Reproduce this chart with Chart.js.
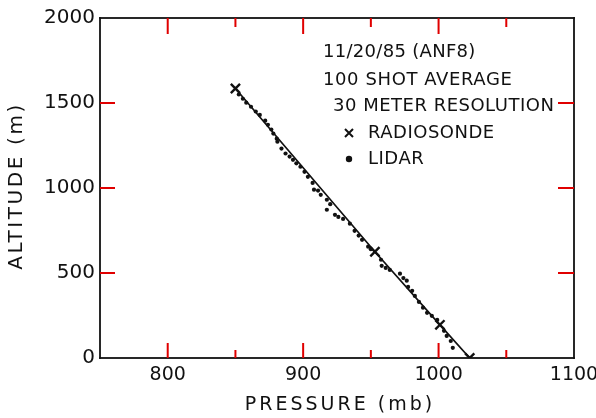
<!DOCTYPE html>
<html>
<head>
<meta charset="utf-8">
<script src="https://cdn.jsdelivr.net/npm/chart.js@4/dist/chart.umd.min.js"></script>
<style>
  html, body { margin: 0; padding: 0; background: #fff; }
  #wrap { width: 596px; height: 418px; }
</style>
</head>
<body>
<div id="wrap"><canvas id="c" width="596" height="418"></canvas></div>
<script>
// Radiosonde soundings: pressure (mb) and altitude (m)
const radiosondePressure = [850, 953, 1001, 1023];
const radiosondeAltitude = [1585, 625, 195, 0];

// Lidar-derived pressure profile, 30 m resolution, 100 shot average
const lidarPressure = [852.5, 855.5, 858, 861.5, 865, 868, 872, 874, 876.5, 878, 880.5, 881, 884, 887,
  890, 892.5, 895, 898, 901, 903.5, 907, 908, 911, 913, 917.5, 917.5, 920, 923.5, 926, 929.5,
  934.5, 938, 941, 943.5, 948, 950, 957.5, 958, 961, 964, 971.5, 974, 976.5, 977.5, 980.5,
  982.5, 985.5, 988.5, 991.5, 995, 999, 1004, 1006, 1009, 1010.5];
const lidarAltitude = [1550, 1525, 1502, 1478, 1450, 1430, 1396, 1372, 1344, 1320, 1290, 1272, 1232, 1203,
  1185, 1166, 1145, 1125, 1095, 1066, 1030, 990, 985, 960, 931, 872, 905, 842, 830, 818,
  790, 748, 720, 695, 655, 640, 578, 542, 530, 518, 496, 470, 455, 418, 395,
  365, 330, 296, 266, 248, 224, 160, 130, 100, 60];

// Axis ranges and tick spacing
const pressureRange = [750, 1100];
const pressureStep = 50;
const altitudeRange = [0, 2000];
const altitudeStep = 500;

// Text block in the upper right
const infoLines = ['11/20/85 (ANF8)', '100 SHOT AVERAGE', '30 METER RESOLUTION'];
const seriesNames = ['RADIOSONDE', 'LIDAR'];
const xTitle = 'PRESSURE (mb)';
const yTitle = 'ALTITUDE (m)';

const INK = '#111';
const TICK_INK = '#e00000';
const FONT = 'DejaVu Sans';

function spacedText(ctx, text, x, y, spacing) {
  ctx.letterSpacing = spacing + 'px';
  ctx.fillText(text, x, y);
  ctx.letterSpacing = '0px';
}

// Frame with inward tick marks on all four sides
const framePlugin = {
  id: 'boxFrame',
  afterDatasetsDraw(chart) {
    const ctx = chart.ctx;
    const a = chart.chartArea;
    const xs = chart.scales.x, ys = chart.scales.y;
    ctx.save();
    ctx.fillStyle = INK;
    const w = 1.8;
    ctx.fillRect(a.left - w / 2, a.top - w / 2, a.right - a.left + w, w);
    ctx.fillRect(a.left - w / 2, a.bottom - w / 2, a.right - a.left + w, w);
    ctx.fillRect(a.left - w / 2, a.top - w / 2, w, a.bottom - a.top + w);
    ctx.fillRect(a.right - w / 2, a.top - w / 2, w, a.bottom - a.top + w);

    ctx.fillStyle = TICK_INK;
    const tw = 2;
    for (let v = pressureRange[0] + pressureStep; v < pressureRange[1]; v += pressureStep) {
      const px = xs.getPixelForValue(v);
      const major = v % 100 === 0;
      const lb = major ? 15 : 8, lt = major ? 16 : 9;
      ctx.fillRect(px - tw / 2, a.bottom - lb, tw, lb);
      ctx.fillRect(px - tw / 2, a.top, tw, lt);
    }
    for (let v = altitudeRange[0] + altitudeStep; v < altitudeRange[1]; v += altitudeStep) {
      const py = ys.getPixelForValue(v);
      ctx.fillRect(a.left, py - tw / 2, 15, tw);
      ctx.fillRect(a.right - 16, py - tw / 2, 16, tw);
    }
    ctx.restore();
  },
  // Axis titles and the key
  afterDraw(chart) {
    const ctx = chart.ctx;
    const a = chart.chartArea;
    ctx.save();
    ctx.fillStyle = INK;
    ctx.strokeStyle = INK;
    ctx.textBaseline = 'middle';
    ctx.textAlign = 'center';
    ctx.font = '19px "' + FONT + '"';
    spacedText(ctx, xTitle, (a.left + a.right) / 2 + 3, 405, 3);
    ctx.save();
    ctx.translate(17, (a.top + a.bottom) / 2);
    ctx.rotate(-Math.PI / 2);
    ctx.font = '20px "' + FONT + '"';
    spacedText(ctx, yTitle, 2, 0, 2.6);
    ctx.restore();

    ctx.textAlign = 'left';
    ctx.font = '18px "' + FONT + '"';
    spacedText(ctx, infoLines[0], 323, 52, 0.3);
    spacedText(ctx, infoLines[1], 323, 80, 0.6);
    spacedText(ctx, infoLines[2], 333, 106, 0.5);
    spacedText(ctx, seriesNames[0], 368, 133, 0.5);
    spacedText(ctx, seriesNames[1], 368, 159, 0.5);

    ctx.lineWidth = 2;
    ctx.beginPath();
    ctx.moveTo(345, 129); ctx.lineTo(353, 137);
    ctx.moveTo(353, 129); ctx.lineTo(345, 137);
    ctx.stroke();
    ctx.beginPath();
    ctx.arc(349, 159, 3.2, 0, Math.PI * 2);
    ctx.fill();
    ctx.restore();
  }
};

new Chart(document.getElementById('c'), {
  type: 'scatter',
  data: {
    datasets: [
      {
        label: seriesNames[0],
        data: radiosondePressure.map((p, i) => ({ x: p, y: radiosondeAltitude[i] })),
        showLine: true,
        borderColor: INK,
        borderWidth: 1.7,
        pointStyle: 'crossRot',
        pointRadius: 6.5,
        pointBorderWidth: 2.4,
        pointBorderColor: INK,
        order: 1
      },
      {
        label: seriesNames[1],
        data: lidarPressure.map((p, i) => ({ x: p, y: lidarAltitude[i] })),
        pointStyle: 'circle',
        pointRadius: 2.1,
        pointBorderWidth: 0,
        pointBackgroundColor: INK,
        order: 2
      }
    ]
  },
  options: {
    responsive: false,
    animation: false,
    devicePixelRatio: 1,
    layout: { padding: { top: 18, right: 22, left: 0, bottom: 0 } },
    plugins: { legend: { display: false }, tooltip: { enabled: false } },
    scales: {
      x: {
        type: 'linear',
        min: pressureRange[0],
        max: pressureRange[1],
        grid: { display: false, drawTicks: false },
        border: { display: false },
        ticks: {
          stepSize: pressureStep,
          autoSkip: false,
          maxRotation: 0,
          padding: 6,
          color: INK,
          font: { family: FONT, size: 19 },
          callback: v => (v % 100 === 0 && v > pressureRange[0]) ? String(v) : ''
        },
        afterFit(s) { s.height = 60; s.paddingRight = 0; }
      },
      y: {
        type: 'linear',
        min: altitudeRange[0],
        max: altitudeRange[1],
        grid: { display: false, drawTicks: false },
        border: { display: false },
        ticks: {
          stepSize: altitudeStep,
          padding: 5,
          color: INK,
          font: { family: FONT, size: 20 },
          callback: v => String(v)
        },
        afterFit(s) { s.width = 100; }
      }
    }
  },
  plugins: [framePlugin]
});
</script>
</body>
</html>
